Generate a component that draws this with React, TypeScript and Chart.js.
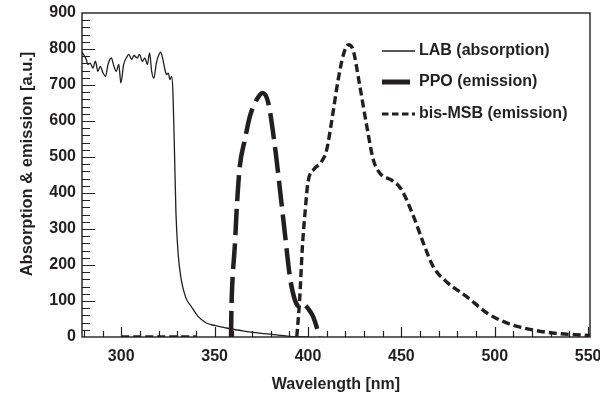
import React, { useEffect, useRef } from "react";
import { Chart, registerables } from "chart.js";

Chart.register(...registerables);

// Wavelength axis [nm] and absorption/emission intensity [a.u.]
const labWavelength = [
  279.1, 281.3, 282.1, 283.4, 284.8, 286.2, 287.5, 288.8, 290.2, 291.6, 292.9, 294.7, 296.1, 297.3,
  298.7, 299.8, 301.3, 302.7, 304.1, 305.6, 306.8, 308.6, 309.8, 311.3, 312.7, 314.0, 315.2, 316.3,
  317.5, 318.8, 320.2, 321.1, 322.3, 323.4, 324.3, 325.2, 326.1, 327.0, 327.7, 328.5, 329.3, 330.5,
  332.2, 334.5, 337.6, 341.0, 345.6, 350.0, 356.4, 365.0, 374.0, 383.0, 390.0, 395.0, 400.0,
];
const labAbsorption = [
  791, 771, 757, 761, 747, 766, 738, 752, 734, 724, 757, 775, 752, 738,
  757, 706, 757, 775, 785, 771, 782, 775, 785, 766, 775, 757, 789, 738,
  719, 761, 785, 791, 771, 743, 729, 733, 715, 724, 678, 520, 345, 230,
  158, 110, 84, 58, 39, 32, 25, 17, 11, 6, 2, 1, 0,
];

const ppoWavelength = [
  358.8, 359.0, 359.6, 360.8, 362.0, 363.5, 366.2, 368.9, 372.5, 375.7, 378.7, 382.3,
  385.0, 387.6, 390.3, 393.0, 395.7, 397.5, 399.3, 401.0, 402.8, 404.5, 405.5, 406.3,
];
const ppoEmission = [
  0, 75, 160, 251, 370, 474, 548, 613, 659, 678, 651, 529,
  409, 289, 168, 103, 84, 90, 84, 72, 56, 30, 11, 0,
];

const msbWavelength = [
  300, 310, 320, 330, 340, 350, 394.0, 395.5, 397.0, 398.5, 400.0, 403.0, 407.0, 410.0,
  413.0, 416.0, 419.0, 421.6, 424.0, 427.5, 431.5, 435.0, 438.5, 445.0, 450.0, 456.5,
  462.0, 467.0, 474.0, 485.0, 496.0, 507.0, 521.0, 533.0, 548.0, 551.0,
];
const msbEmission = [
  0, 0, 0, 0, 0, null, 0, 100, 250, 350, 430, 465, 485, 520,
  610, 710, 785, 812, 800, 705, 585, 492, 455, 435, 410, 335,
  258, 196, 154, 112, 66, 38, 19, 10, 5, 4,
];

const seriesLabels = ["LAB (absorption)", "PPO (emission)", "bis-MSB (emission)"];
const yAxisTitle = "Absorption & emission [a.u.]";
const xAxisTitle = "Wavelength [nm]";

const xMin = 279;
const xMax = 551;
const xTickLabels = [300, 350, 400, 450, 500, 550];
const xMinorStep = 10;
const yMin = 0;
const yMax = 900;
const yStep = 100;
const yMinorStep = 20;

const INK = "#231f20";
const FONT_FAMILY = '"Liberation Sans", Arial, Helvetica, sans-serif';

const toPoints = (xs: number[], ys: (number | null)[]) => xs.map((x, i) => ({ x, y: ys[i] }));

// Legend sample style for each series
const legendSamples = [
  { width: 1.3, dash: [] as number[], length: 33 },
  { width: 5, dash: [] as number[], length: 28 },
  { width: 3.2, dash: [6.5, 3.5], length: 33 },
];

const framePlugin = {
  id: "frameTicksLegend",
  afterDatasetsDraw(chart: any) {
    const { ctx, chartArea, scales } = chart;
    const { left, right, top, bottom } = chartArea;
    const x = scales.x;
    const y = scales.y;
    ctx.save();
    ctx.strokeStyle = INK;
    ctx.lineWidth = 1.4;
    ctx.setLineDash([]);
    ctx.strokeRect(left, top, right - left, bottom - top);

    // inward tick marks
    ctx.lineWidth = 1.2;
    ctx.beginPath();
    for (let v = Math.ceil(xMin / xMinorStep) * xMinorStep; v <= xMax; v += xMinorStep) {
      const px = Math.round(x.getPixelForValue(v)) + 0.5;
      const len = xTickLabels.includes(v) ? 10 : 6;
      ctx.moveTo(px, bottom);
      ctx.lineTo(px, bottom - len);
    }
    for (let v = yMin + yMinorStep; v < yMax; v += yMinorStep) {
      const py = Math.round(y.getPixelForValue(v)) + 0.5;
      const len = v % yStep === 0 ? 13 : 8;
      ctx.moveTo(left, py);
      ctx.lineTo(left + len, py);
    }
    ctx.stroke();

    // vertical axis title, centred a little above the plot middle
    ctx.fillStyle = INK;
    ctx.font = `bold 16.5px ${FONT_FAMILY}`;
    ctx.textAlign = "center";
    ctx.textBaseline = "middle";
    ctx.save();
    ctx.translate(27, 164);
    ctx.rotate(-Math.PI / 2);
    ctx.fillText(yAxisTitle, 0, 0);
    ctx.restore();

    // legend
    const rowY = [51, 82, 114];
    const x0 = 382;
    ctx.font = `bold 16px ${FONT_FAMILY}`;
    ctx.textAlign = "left";
    legendSamples.forEach((s, i) => {
      ctx.beginPath();
      ctx.lineWidth = s.width;
      ctx.setLineDash(s.dash);
      ctx.moveTo(x0, rowY[i]);
      ctx.lineTo(x0 + s.length, rowY[i]);
      ctx.stroke();
      ctx.setLineDash([]);
      ctx.fillText(seriesLabels[i], 419, rowY[i]);
    });
    ctx.restore();
  },
};

export default function App() {
  const canvasRef = useRef<HTMLCanvasElement>(null);

  useEffect(() => {
    const font = { family: FONT_FAMILY, size: 16, weight: "bold" as const };
    const chart = new Chart(canvasRef.current!, {
      type: "line",
      data: {
        datasets: [
          {
            label: seriesLabels[0],
            data: toPoints(labWavelength, labAbsorption),
            borderColor: INK,
            borderWidth: 1.3,
            pointRadius: 0,
            cubicInterpolationMode: "monotone",
          },
          {
            label: seriesLabels[1],
            data: toPoints(ppoWavelength, ppoEmission),
            borderColor: INK,
            borderWidth: 4.5,
            borderDash: [26, 8],
            pointRadius: 0,
            cubicInterpolationMode: "monotone",
          },
          {
            label: seriesLabels[2],
            data: toPoints(msbWavelength, msbEmission),
            borderColor: INK,
            borderWidth: 3.4,
            borderDash: [8, 4],
            pointRadius: 0,
            spanGaps: false,
            cubicInterpolationMode: "monotone",
          },
        ],
      },
      options: {
        animation: false,
        responsive: false,
        devicePixelRatio: 1,
        layout: { padding: { top: 13, right: 10, left: 0, bottom: 0 } },
        plugins: {
          legend: { display: false },
          tooltip: { enabled: false },
        },
        scales: {
          x: {
            type: "linear",
            min: xMin,
            max: xMax,
            grid: { display: false, drawTicks: false },
            border: { display: false },
            ticks: { font, color: INK, padding: 10, autoSkip: false, maxRotation: 0 },
            title: {
              display: true,
              text: xAxisTitle,
              font,
              color: INK,
              padding: { top: 0, bottom: 2 },
            },
            afterBuildTicks: (scale: any) => {
              scale.ticks = xTickLabels.map((value) => ({ value }));
            },
            afterFit: (scale: any) => {
              scale.height = 59;
              scale.paddingLeft = 0;
              scale.paddingRight = 0;
            },
          },
          y: {
            type: "linear",
            min: yMin,
            max: yMax,
            grid: { display: false, drawTicks: false },
            border: { display: false },
            ticks: { font, color: INK, padding: 6, stepSize: yStep },
            title: { display: false },
            afterFit: (scale: any) => {
              scale.width = 82;
              scale.paddingTop = 0;
              scale.paddingBottom = 0;
            },
          },
        },
      },
      plugins: [framePlugin],
    } as any);
    return () => chart.destroy();
  }, []);

  return (
    <div style={{ position: "absolute", left: 0, top: 0, width: 600, height: 396, background: "#fff" }}>
      <canvas ref={canvasRef} width={600} height={396} style={{ width: 600, height: 396, display: "block" }} />
    </div>
  );
}
